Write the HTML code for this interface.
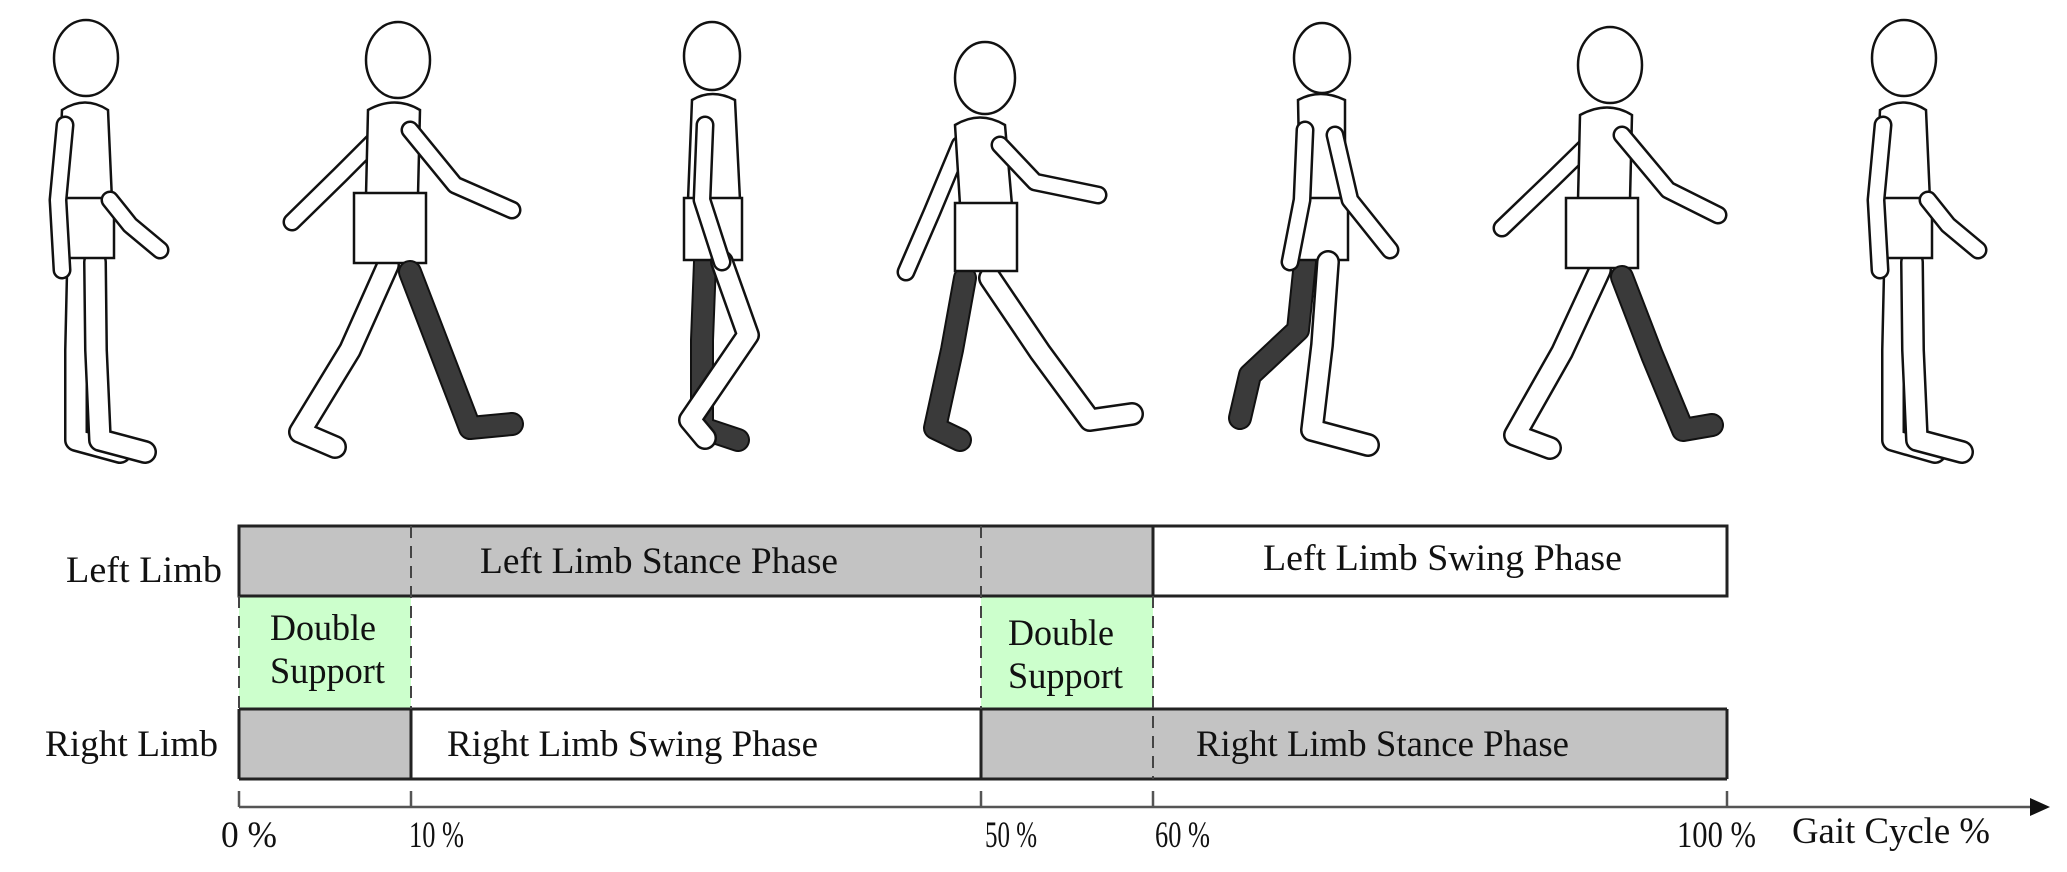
<!DOCTYPE html>
<html><head><meta charset="utf-8"><style>
html,body{margin:0;padding:0;background:#fff;}
svg{display:block;}
text{font-family:"Liberation Serif",serif;fill:#111;}
</style></head><body>
<svg width="2067" height="872" viewBox="0 0 2067 872" xmlns="http://www.w3.org/2000/svg">
<defs>
<style>
.lo{fill:none;stroke:#111;stroke-width:24;stroke-linecap:round;stroke-linejoin:round;}
.li{fill:none;stroke:#fff;stroke-width:19;stroke-linecap:round;stroke-linejoin:round;}
.ld{fill:none;stroke:#3a3a3a;stroke-width:20;stroke-linecap:round;stroke-linejoin:round;}
.ao{fill:none;stroke:#111;stroke-width:19;stroke-linecap:round;stroke-linejoin:round;}
.ai{fill:none;stroke:#fff;stroke-width:14;stroke-linecap:round;stroke-linejoin:round;}
.b{fill:#fff;stroke:#111;stroke-width:2.5;}
</style>
</defs>

<!-- Figure 1 standing -->
<g>
<path class="lo" d="M78 262 L76 350 L76 440 L120 452"/><path class="li" d="M78 262 L76 350 L76 440 L120 452"/>
<path class="lo" d="M95 262 L96 350 L100 440 L145 452"/><path class="li" d="M95 262 L96 350 L100 440 L145 452"/>
<path class="b" d="M62 110 Q85 95 108 110 L112 200 L58 200 Z"/>
<rect class="b" x="58" y="198" width="56" height="60"/>
<path class="ao" d="M65 125 L58 200 L62 270"/><path class="ai" d="M65 125 L58 200 L62 270"/>
<path class="ao" d="M110 200 L130 225 L160 250"/><path class="ai" d="M110 200 L130 225 L160 250"/>
<ellipse class="b" cx="86" cy="58" rx="32" ry="38"/>
</g>

<!-- Figure 2 -->
<g>
<path class="lo" d="M388 265 L350 350 L300 432 L335 447"/><path class="li" d="M388 265 L350 350 L300 432 L335 447"/>
<path class="ao" d="M385 130 L340 175 L292 222"/><path class="ai" d="M385 130 L340 175 L292 222"/>
<path class="b" d="M368 110 Q395 95 420 110 L418 195 L366 195 Z"/>
<rect class="b" x="354" y="193" width="72" height="70"/>
<path class="lo" d="M410 272 L440 350 L470 428 L512 424"/><path class="ld" d="M410 272 L440 350 L470 428 L512 424"/>
<path class="ao" d="M410 130 L455 185 L512 210"/><path class="ai" d="M410 130 L455 185 L512 210"/>
<ellipse class="b" cx="398" cy="60" rx="32" ry="38"/>
</g>

<!-- Figure 3 -->
<g>
<path class="lo" d="M705 262 L702 340 L702 428 L738 440"/><path class="ld" d="M705 262 L702 340 L702 428 L738 440"/>
<path class="b" d="M692 100 Q712 88 735 100 L740 200 L688 200 Z"/>
<rect class="b" x="684" y="198" width="58" height="62"/>
<path class="lo" d="M722 262 L748 335 L690 420 L705 438"/><path class="li" d="M722 262 L748 335 L690 420 L705 438"/>
<path class="ao" d="M705 125 L702 200 L722 262"/><path class="ai" d="M705 125 L702 200 L722 262"/>
<ellipse class="b" cx="712" cy="56" rx="28" ry="34"/>
</g>

<!-- Figure 4 -->
<g>
<path class="ao" d="M960 145 L932 212 L906 272"/><path class="ai" d="M960 145 L932 212 L906 272"/>
<path class="lo" d="M965 278 L952 350 L935 428 L960 440"/><path class="ld" d="M965 278 L952 350 L935 428 L960 440"/>
<path class="lo" d="M990 278 L1040 352 L1090 420 L1132 414"/><path class="li" d="M990 278 L1040 352 L1090 420 L1132 414"/>
<path class="b" d="M955 125 Q980 110 1005 125 L1012 205 L960 205 Z"/>
<rect class="b" x="955" y="203" width="62" height="68"/>
<path class="ao" d="M1000 145 L1035 182 L1098 195"/><path class="ai" d="M1000 145 L1035 182 L1098 195"/>
<ellipse class="b" cx="985" cy="78" rx="30" ry="36"/>
</g>

<!-- Figure 5 -->
<g>
<path class="lo" d="M1305 262 L1298 330 L1250 375 L1240 418"/><path class="ld" d="M1305 262 L1298 330 L1250 375 L1240 418"/>
<path class="b" d="M1298 100 Q1320 88 1345 100 L1345 200 L1300 200 Z"/>
<rect class="b" x="1296" y="198" width="52" height="62"/>
<path class="lo" d="M1328 262 L1322 345 L1312 430 L1368 445"/><path class="li" d="M1328 262 L1322 345 L1312 430 L1368 445"/>
<path class="ao" d="M1305 130 L1302 200 L1290 262"/><path class="ai" d="M1305 130 L1302 200 L1290 262"/>
<path class="ao" d="M1335 135 L1350 200 L1390 250"/><path class="ai" d="M1335 135 L1350 200 L1390 250"/>
<ellipse class="b" cx="1322" cy="58" rx="28" ry="35"/>
</g>

<!-- Figure 6 -->
<g>
<path class="lo" d="M1600 270 L1562 352 L1515 435 L1550 448"/><path class="li" d="M1600 270 L1562 352 L1515 435 L1550 448"/>
<path class="ao" d="M1598 135 L1552 180 L1502 228"/><path class="ai" d="M1598 135 L1552 180 L1502 228"/>
<path class="b" d="M1580 115 Q1608 100 1632 115 L1630 200 L1578 200 Z"/>
<rect class="b" x="1566" y="198" width="72" height="70"/>
<path class="lo" d="M1622 277 L1652 355 L1683 430 L1712 425"/><path class="ld" d="M1622 277 L1652 355 L1683 430 L1712 425"/>
<path class="ao" d="M1622 135 L1668 190 L1718 215"/><path class="ai" d="M1622 135 L1668 190 L1718 215"/>
<ellipse class="b" cx="1610" cy="65" rx="32" ry="38"/>
</g>

<!-- Figure 7 standing -->
<g>
<path class="lo" d="M1895 262 L1893 350 L1893 440 L1935 452"/><path class="li" d="M1895 262 L1893 350 L1893 440 L1935 452"/>
<path class="lo" d="M1912 262 L1913 350 L1917 440 L1962 452"/><path class="li" d="M1912 262 L1913 350 L1917 440 L1962 452"/>
<path class="b" d="M1880 110 Q1903 95 1926 110 L1930 200 L1876 200 Z"/>
<rect class="b" x="1876" y="198" width="56" height="60"/>
<path class="ao" d="M1883 125 L1876 200 L1880 270"/><path class="ai" d="M1883 125 L1876 200 L1880 270"/>
<path class="ao" d="M1928 200 L1948 225 L1978 250"/><path class="ai" d="M1928 200 L1948 225 L1978 250"/>
<ellipse class="b" cx="1904" cy="58" rx="32" ry="38"/>
</g>

<!-- Chart -->
<rect x="239" y="526" width="914" height="70" fill="#c3c3c3"/>
<rect x="1153" y="526" width="574" height="70" fill="#fff"/>
<rect x="239" y="596" width="172" height="113" fill="#ccffcc"/>
<rect x="981" y="596" width="172" height="113" fill="#ccffcc"/>
<rect x="239" y="709" width="172" height="70" fill="#c3c3c3"/>
<rect x="981" y="709" width="746" height="70" fill="#c3c3c3"/>
<g stroke="#222" stroke-width="3" fill="none">
<rect x="239" y="526" width="1488" height="70"/>
<line x1="239" y1="709" x2="1727" y2="709"/>
<line x1="239" y1="779" x2="1727" y2="779"/>
<line x1="239" y1="709" x2="239" y2="779"/>
<line x1="1727" y1="709" x2="1727" y2="779"/>
<line x1="1153" y1="526" x2="1153" y2="596"/>
<line x1="411" y1="709" x2="411" y2="779"/>
<line x1="981" y1="709" x2="981" y2="779"/>
</g>
<g stroke="#444" stroke-width="2" stroke-dasharray="12,8" fill="none">
<line x1="411" y1="526" x2="411" y2="709"/>
<line x1="981" y1="526" x2="981" y2="709"/>
<line x1="1153" y1="596" x2="1153" y2="779"/>
<line x1="239" y1="596" x2="239" y2="709"/>
</g>
<g stroke="#555" stroke-width="2.5">
<line x1="239" y1="807" x2="2040" y2="807"/>
<line x1="239" y1="791" x2="239" y2="807"/>
<line x1="411" y1="791" x2="411" y2="807"/>
<line x1="981" y1="791" x2="981" y2="807"/>
<line x1="1153" y1="791" x2="1153" y2="807"/>
<line x1="1727" y1="791" x2="1727" y2="807"/>
</g>
<polygon points="2050,807 2030,798 2030,816" fill="#111"/>

<g font-size="37">
<text x="66" y="582" textLength="156" lengthAdjust="spacingAndGlyphs">Left  Limb</text>
<text x="45" y="756" textLength="173" lengthAdjust="spacingAndGlyphs">Right Limb</text>
<text x="480" y="573" textLength="358" lengthAdjust="spacingAndGlyphs">Left  Limb Stance Phase</text>
<text x="1263" y="570" textLength="359" lengthAdjust="spacingAndGlyphs">Left  Limb Swing Phase</text>
<text x="447" y="756" textLength="371" lengthAdjust="spacingAndGlyphs">Right Limb Swing Phase</text>
<text x="1196" y="756" textLength="373" lengthAdjust="spacingAndGlyphs">Right Limb Stance Phase</text>
<text x="270" y="640" textLength="106" lengthAdjust="spacingAndGlyphs">Double</text>
<text x="270" y="683" textLength="115" lengthAdjust="spacingAndGlyphs">Support</text>
<text x="1008" y="645" textLength="106" lengthAdjust="spacingAndGlyphs">Double</text>
<text x="1008" y="688" textLength="115" lengthAdjust="spacingAndGlyphs">Support</text>
<text x="221" y="847" textLength="56" lengthAdjust="spacingAndGlyphs">0 %</text>
<text x="409" y="847" textLength="55" lengthAdjust="spacingAndGlyphs">10 %</text>
<text x="985" y="847" textLength="52" lengthAdjust="spacingAndGlyphs">50 %</text>
<text x="1155" y="847" textLength="55" lengthAdjust="spacingAndGlyphs">60 %</text>
<text x="1677" y="847" textLength="79" lengthAdjust="spacingAndGlyphs">100 %</text>
<text x="1792" y="843" textLength="198" lengthAdjust="spacingAndGlyphs">Gait Cycle %</text>
</g>
</svg>
</body></html>
